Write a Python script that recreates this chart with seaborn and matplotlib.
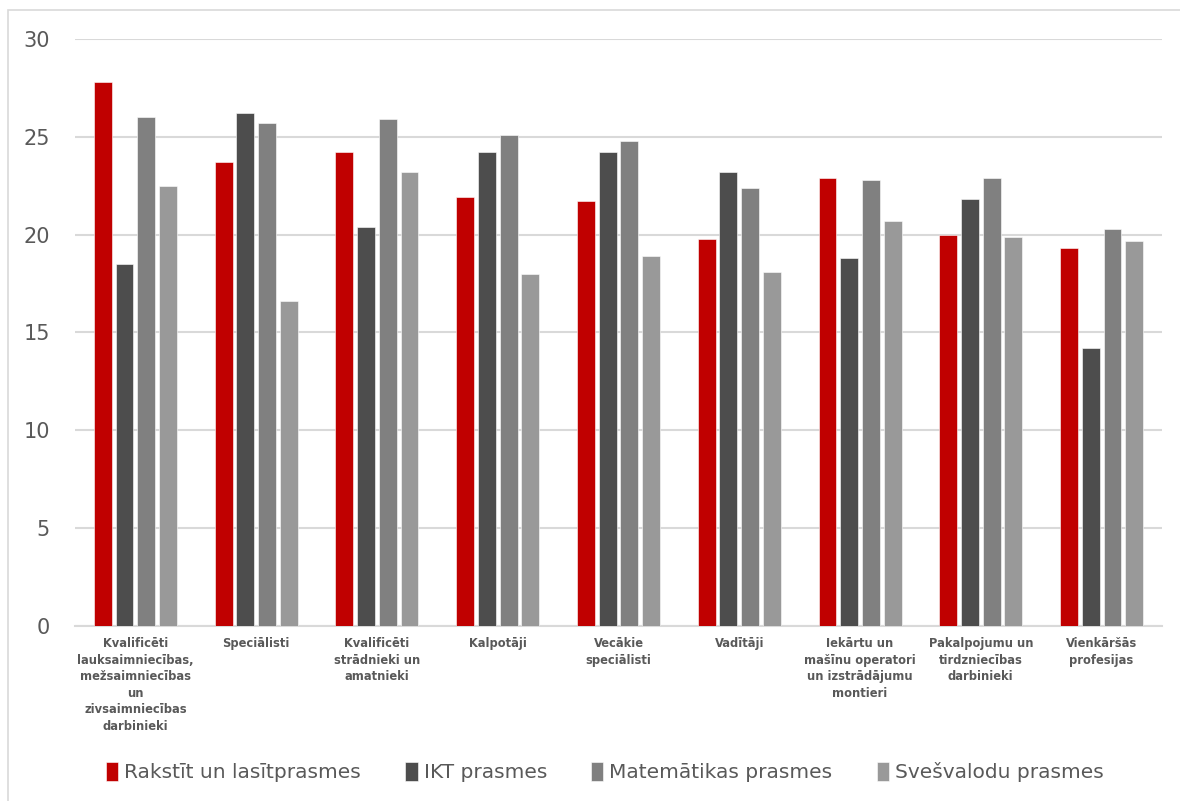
import pandas as pd
import seaborn as sns
import matplotlib.pyplot as plt
from matplotlib.patches import Rectangle

categories = [
    "Kvalificēti\nlauksaimniecības,\nmežsaimniecības\nun\nzivsaimniecības\ndarbinieki",
    "Speciālisti",
    "Kvalificēti\nstrādnieki un\namatnieki",
    "Kalpotāji",
    "Vecākie\nspeciālisti",
    "Vadītāji",
    "Iekārtu un\nmašīnu operatori\nun izstrādājumu\nmontieri",
    "Pakalpojumu un\ntirdzniecības\ndarbinieki",
    "Vienkāršās\nprofesijas",
]
series = ["Rakstīt un lasītprasmes", "IKT prasmes", "Matemātikas prasmes", "Svešvalodu prasmes"]

rakstit = [27.8, 23.7, 24.2, 21.9, 21.7, 19.8, 22.9, 20.0, 19.3]
ikt = [18.5, 26.2, 20.4, 24.2, 24.2, 23.2, 18.8, 21.8, 14.2]
matematika = [26.0, 25.7, 25.9, 25.1, 24.8, 22.4, 22.8, 22.9, 20.3]
svesvalodas = [22.5, 16.6, 23.2, 18.0, 18.9, 18.1, 20.7, 19.9, 19.7]

colors = ["#C00000", "#4D4D4D", "#808080", "#999999"]

rows = []
for s, vals in zip(series, [rakstit, ikt, matematika, svesvalodas]):
    for c, v in zip(categories, vals):
        rows.append({"kategorija": c, "prasme": s, "vertiba": v})
df = pd.DataFrame(rows)

sns.set_style("white")
plt.rcParams['font.family'] = ['DejaVu Sans']

fig = plt.figure(figsize=(11.8, 8.01), dpi=100)
ax = fig.add_axes([0.0636, 0.2185, 0.9211, 0.7328])

# outer chart border
fig.patches.append(Rectangle((8 / 1180, -0.01), 1.02, 1 - 10 / 801 + 0.01,
                             transform=fig.transFigure, fill=False,
                             edgecolor="#D9D9D9", linewidth=1.2))

sns.barplot(data=df, x="kategorija", y="vertiba", hue="prasme",
            palette=colors, saturation=1, width=0.72, gap=0.18, ax=ax,
            edgecolor="white", linewidth=0.4, zorder=3)

ax.set_ylim(0, 30)
ax.set_yticks([0, 5, 10, 15, 20, 25, 30])
ax.yaxis.grid(True, color="#D9D9D9", linewidth=1.5, zorder=0)
ax.set_axisbelow(True)
for side in ["top", "right", "left"]:
    ax.spines[side].set_visible(False)
ax.spines["bottom"].set_color("#D9D9D9")
ax.spines["bottom"].set_linewidth(1.5)
ax.set_xlabel("")
ax.set_ylabel("")
ax.tick_params(axis="y", length=0, labelsize=15, labelcolor="#595959", pad=18)
ax.tick_params(axis="x", length=0, labelsize=8.3, labelcolor="#595959", pad=8)
for lbl in ax.get_xticklabels():
    lbl.set_fontweight("bold")
    lbl.set_linespacing(1.35)

ax.legend(loc="center", bbox_to_anchor=(0.4876, -0.249), ncol=4, frameon=False,
          fontsize=14.5, handlelength=0.6, handleheight=1.1, handletextpad=0.3,
          columnspacing=2.2, labelcolor="#595959")

plt.savefig("out.png", dpi=100)
